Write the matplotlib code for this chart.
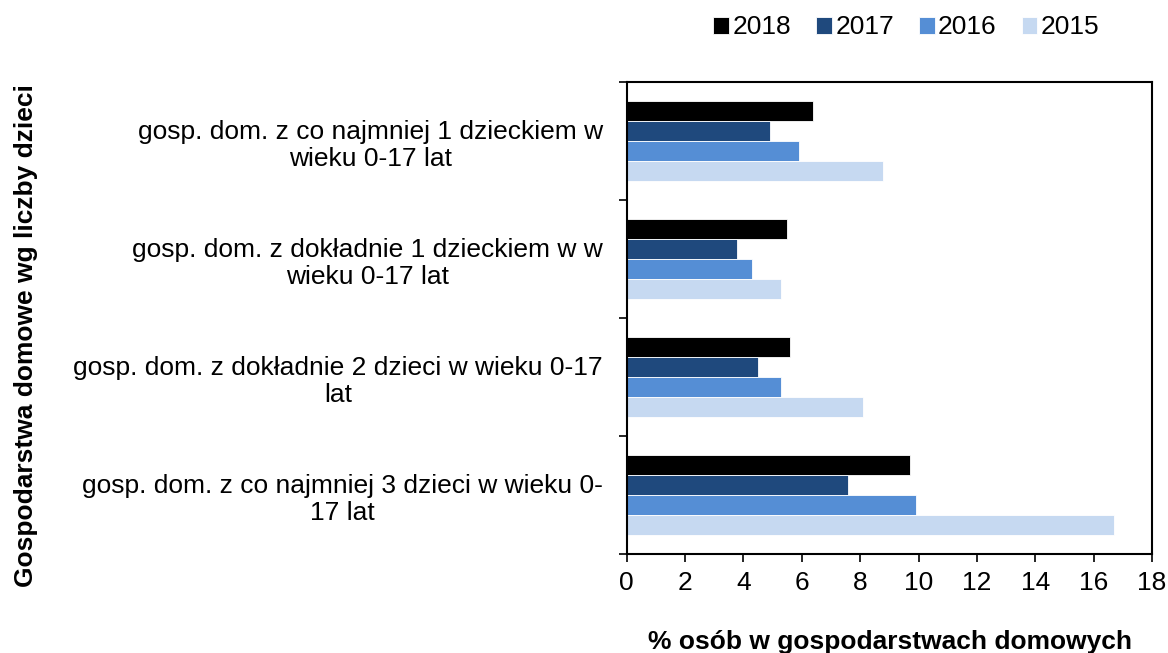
import matplotlib.pyplot as plt
import numpy as np

plt.rcParams['font.family'] = ['Liberation Sans', 'DejaVu Sans']

# Households by number of children, share of persons (%)
categories = [
    "gosp. dom. z co najmniej 1 dzieckiem w\nwieku 0-17 lat",
    "gosp. dom. z dokładnie 1 dzieckiem w w\nwieku 0-17 lat",
    "gosp. dom. z dokładnie 2 dzieci w wieku 0-17\nlat",
    "gosp. dom. z co najmniej 3 dzieci w wieku 0-\n17 lat",
]
years = ["2018", "2017", "2016", "2015"]
v2018 = [6.4, 5.5, 5.6, 9.7]
v2017 = [4.9, 3.8, 4.5, 7.6]
v2016 = [5.9, 4.3, 5.3, 9.9]
v2015 = [8.8, 5.3, 8.1, 16.7]
colors = ["#000000", "#1F497D", "#558ED5", "#C6D9F1"]

fig = plt.figure(figsize=(11.68, 6.53), dpi=100)
ax = fig.add_axes([0.5364, 0.1516, 0.4500, 0.7228])

y = np.arange(len(categories))
h = 0.17
for i, (vals, lab, col) in enumerate(zip([v2018, v2017, v2016, v2015], years, colors)):
    ax.barh(y - 1.5 * h + i * h, vals, height=h, color=col, label=lab,
            edgecolor="white", linewidth=0.6)

ax.set_xlim(0, 18)
ax.set_xticks(np.arange(0, 19, 2))
ax.set_ylim(3.5, -0.5)
ax.set_yticks(y)
ax.set_yticklabels(categories)
ax.set_yticks(np.arange(-0.5, 4.0, 1.0), minor=True)
ax.tick_params(axis="y", which="major", length=0, pad=17, labelsize=19)
ax.tick_params(axis="y", which="minor", length=6, width=1.2, direction="out")
ax.tick_params(axis="x", length=6, width=1.2, direction="out", labelsize=19, pad=6)
for t in ax.get_yticklabels():
    t.set_multialignment("center")

for s in ax.spines.values():
    s.set_linewidth(1.5)

fig.text(0.762, 0.017, "% osób w gospodarstwach domowych", fontsize=19,
         fontweight="bold", ha="center", va="center")
fig.text(0.022, 0.486, "Gospodarstwa domowe wg liczby dzieci", rotation=90,
         fontsize=19, fontweight="bold", ha="center", va="center")

ax.legend(loc="center", bbox_to_anchor=(0.776, 0.958), bbox_transform=fig.transFigure,
          ncol=4, frameon=False, fontsize=19, handlelength=0.6, handleheight=0.6,
          handletextpad=0.12, columnspacing=0.95, borderaxespad=0, borderpad=0)

fig.savefig("out.png", dpi=100)
